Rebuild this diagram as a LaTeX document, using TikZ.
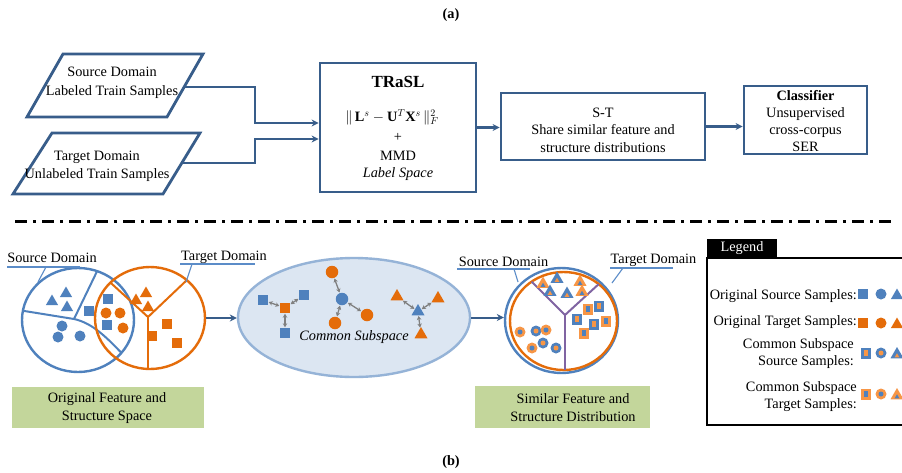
\documentclass[tikz,border=0pt]{standalone}
\usepackage{fontspec}
\setmainfont{Liberation Serif}
\usetikzlibrary{shapes.geometric,arrows.meta,calc}
\definecolor{boxblue}{HTML}{385D8A}
\definecolor{sblue}{HTML}{4F81BD}
\definecolor{torange}{HTML}{E46C0A}
\definecolor{lorange}{HTML}{F79646}
\definecolor{ellfill}{HTML}{DCE6F2}
\definecolor{elldraw}{HTML}{95B3D7}
\definecolor{gbox}{HTML}{C3D69B}
\definecolor{purp}{HTML}{8064A2}
\definecolor{arrgray}{HTML}{808080}
\definecolor{lineblue}{HTML}{5B8CC8}
\newcommand\dsym[6]{%
  \node[#1,fill=#2] (#6) at (#4) {};
  \node[#1 in,fill=#3] (#6i) at (#5) {};}
\begin{document}
\begin{tikzpicture}[x=1pt,y=-1pt,
  txt/.style={font=\fontsize{14.3}{18}\selectfont, align=center, inner sep=0pt},
  flowbox/.style={draw=boxblue, line width=2.8pt, fill=white, inner sep=0pt},
  flowarrow/.style={draw=boxblue, line width=2.2pt, -{Stealth[length=7pt,width=7pt]}},
  sq/.style={rectangle, minimum size=9.5pt, inner sep=0pt},
  ci/.style={circle, minimum size=11pt, inner sep=0pt},
  tri/.style={regular polygon, regular polygon sides=3, minimum size=14pt, inner sep=0pt},
  dsq/.style={rectangle, minimum width=10pt, minimum height=11pt, inner sep=0pt},
  dsq in/.style={rectangle, minimum width=4pt, minimum height=6.5pt, inner sep=0pt},
  dci/.style={circle, minimum size=11pt, inner sep=0pt},
  dci in/.style={circle, minimum size=5pt, inner sep=0pt},
  dtri/.style={regular polygon, regular polygon sides=3, minimum size=15pt, inner sep=0pt},
  dtri in/.style={regular polygon, regular polygon sides=3, minimum size=5.5pt, inner sep=0pt},
  garrow/.style={draw=arrgray, line width=1.3pt, {Stealth[length=4pt,width=4.5pt]}-{Stealth[length=4pt,width=4.5pt]}, shorten <=0.5pt, shorten >=0.5pt},
  leader/.style={draw=lineblue, line width=1.1pt},
  ring/.style={ellipse, line width=2.4pt, inner sep=0pt},
]
\useasboundingbox (0,0) rectangle (902,472);
\fill[white] (0,0) rectangle (902,472);

% ---------------- (a) ----------------
\node[txt, font=\bfseries\fontsize{14.3}{18}\selectfont] (ta) at (451,15) {(a)};

\draw[flowbox] (63,54) -- (203,54) -- (167,117) -- (27,117) -- cycle;
\node[txt, font=\fontsize{14.3}{19}\selectfont] (p1) at (112,83) {Source Domain\\Labeled Train Samples};
\coordinate (p1r) at (184,87);
\draw[flowbox] (52,133) -- (200,133) -- (163,194) -- (13,194) -- cycle;
\node[txt] (p2) at (97,166) {Target Domain\\Unlabeled Train Samples};
\coordinate (p2r) at (182,163);

\node[flowbox, minimum width=156pt, minimum height=129pt] (trasl) at (398,127.5) {};
\node[txt, font=\bfseries\fontsize{17}{20}\selectfont] (tt) at (398,82) {TRaSL};
\node[txt] (tf) at (392,117) {$\|\,\mathbf{L}^s-\mathbf{U}^T\mathbf{X}^s\,\|_F^{2}$};
\node[txt] (tp) at (398,137) {+};
\node[txt] (tm) at (398,156) {MMD};
\node[txt, font=\itshape\fontsize{14.3}{18}\selectfont] (tl) at (398,174) {Label Space};

\draw[flowarrow] (p1r) -- (255,87) |- ([yshift=4.5pt]trasl.west);
\draw[flowarrow] (p2r) -- (255,163) |- ([yshift=-11.5pt]trasl.west);

\node[flowbox, minimum width=204pt, minimum height=67pt] (st) at (603,126.5) {};
\node[txt, font=\fontsize{14.3}{17.5}\selectfont] (stt) at (603,130) {S-T\\Share similar feature and\\structure distributions};
\draw[flowarrow] (trasl.east) -- (trasl.east -| st.west);

\node[flowbox, minimum width=123pt, minimum height=68pt] (cls) at (805.5,120) {};
\node[txt, font=\fontsize{14.3}{17}\selectfont] (clst) at (805.5,121) {\textbf{Classifier}\\Unsupervised\\cross-corpus\\SER};
\draw[flowarrow] (st.east) -- (st.east -| cls.west);

% separator
\coordinate (dl) at (15,221);
\coordinate (dr) at (893,221);
\draw[line width=3pt, dash pattern=on 12pt off 6pt on 3pt off 6pt] (dl) -- (dr);

% ---------------- (b) left ----------------
\node[ring, draw=sblue, minimum width=112pt, minimum height=104pt] (bc) at (78,320) {};
\begin{scope}
  \clip (78,320) ellipse [x radius=56, y radius=52];
  \draw[sblue, line width=2pt] (12,309) -- (74,319) .. controls (92,323) and (106,336) .. (128,360);
  \draw[sblue, line width=2pt] (74,319) -- (102,261);
\end{scope}
\node[ring, draw=torange, minimum width=110pt, minimum height=102pt] (oc) at (150,318) {};
\begin{scope}
  \clip (150,318) ellipse [x radius=55, y radius=51];
  \draw[torange, line width=2pt] (148,317) -- (88,262);
  \draw[torange, line width=2pt] (148,317) -- (208,260);
  \draw[torange, line width=2pt] (148,317) -- (148,380);
\end{scope}

\node[tri, fill=sblue] (lbt1) at (66,293.5) {};
\node[tri, fill=sblue] (lbt2) at (52,301.5) {};
\node[tri, fill=sblue] (lbt3) at (67,307.5) {};
\node[ci, fill=sblue] (lbc1) at (62,326) {};
\node[ci, fill=sblue] (lbc2) at (58,337) {};
\node[ci, fill=sblue] (lbc3) at (80,336) {};
\node[sq, fill=sblue] (lbs1) at (89,311) {};
\node[sq, fill=sblue] (lbs2) at (108,299) {};
\node[sq, fill=sblue] (lbs3) at (107,325) {};
\node[tri, fill=torange] (lot1) at (146,293.5) {};
\node[tri, fill=torange] (lot2) at (136,300.5) {};
\node[tri, fill=torange] (lot3) at (148,307.5) {};
\node[ci, fill=torange] (loc1) at (106,313) {};
\node[ci, fill=torange] (loc2) at (120,313) {};
\node[ci, fill=torange] (loc3) at (123,328) {};
\node[sq, fill=torange] (los1) at (167,324) {};
\node[sq, fill=torange] (los2) at (152,336) {};
\node[sq, fill=torange] (los3) at (177,343) {};

\node[txt] (lsd) at (52,258) {Source Domain};
\draw[leader] (7,267) -- (80,267);
\draw[leader] (46,267) -- (38,282);
\node[txt] (ltd) at (224,257) {Target Domain};
\draw[leader] (180,264) -- (255,264);
\draw[leader] (192,264) -- (186,282);

\node[fill=gbox, minimum width=192pt, minimum height=41pt, inner sep=0pt] (g1) at (108,407.5) {};
\node[txt] (g1t) at (107,408) {Original Feature and\\Structure Space};

% ---------------- (b) middle ----------------
\node[ellipse, draw=elldraw, fill=ellfill, line width=2.4pt, minimum width=232pt, minimum height=119pt, inner sep=0pt] (ell) at (354,317.5) {};
\draw[flowarrow, line width=2pt] (oc.east) -- (oc.east -| ell.west);

\node[sq, fill=torange, minimum size=10pt] (e1c) at (285,308) {};
\node[sq, fill=sblue, minimum size=10pt] (e1a) at (263,300) {};
\node[sq, fill=sblue, minimum size=10pt] (e1b) at (304,295) {};
\node[sq, fill=sblue, minimum size=10pt] (e1d) at (285,333) {};
\draw[garrow] (e1c) -- (e1a);
\draw[garrow] (e1c) -- (e1b);
\draw[garrow] (e1c) -- (e1d);

\node[ci, fill=sblue, minimum size=12.5pt] (e2c) at (342,299) {};
\node[ci, fill=torange, minimum size=12.5pt] (e2a) at (332,272) {};
\node[ci, fill=torange, minimum size=12.5pt] (e2b) at (367,315) {};
\node[ci, fill=torange, minimum size=12.5pt] (e2d) at (335,323) {};
\draw[garrow] (e2c) -- (e2a);
\draw[garrow] (e2c) -- (e2b);
\draw[garrow] (e2c) -- (e2d);

\node[tri, fill=sblue, minimum size=15pt] (e3c) at (418,311.5) {};
\node[tri, fill=torange, minimum size=15pt] (e3a) at (397,296.5) {};
\node[tri, fill=torange, minimum size=15pt] (e3b) at (438,298.5) {};
\node[tri, fill=torange, minimum size=15pt] (e3d) at (421,334.5) {};
\draw[garrow] (e3c) -- (e3a);
\draw[garrow] (e3c) -- (e3b);
\draw[garrow] (e3c) -- (e3d);

\node[txt, font=\itshape\fontsize{14.3}{18}\selectfont] (cst) at (354,337) {Common Subspace};

% ---------------- (b) right ----------------
\node[ring, draw=sblue, minimum width=113pt, minimum height=105pt] (rb) at (561.5,320.5) {};
\node[ring, draw=torange, minimum width=107pt, minimum height=98pt] (ro) at (563.5,321) {};
\draw[flowarrow, line width=2pt] (ell.east) -- (ell.east -| rb.west);
\begin{scope}
  \clip (563.5,321) ellipse [x radius=53.5, y radius=49];
  \draw[purp, line width=2pt] (565,315) -- (505,255);
  \draw[purp, line width=2pt] (565,315) -- (625,260);
  \draw[purp, line width=2pt] (565,315) -- (565,380);
\end{scope}

\dsym{dtri}{lorange}{sblue}{543,284}{543,285.5}{rt1}
\dsym{dtri}{sblue}{lorange}{557,279}{557,280.5}{rt2}
\dsym{dtri}{lorange}{sblue}{580,282}{580,283.5}{rt3}
\dsym{dtri}{sblue}{lorange}{550,292}{550,293.5}{rt4}
\dsym{dtri}{sblue}{lorange}{567,294}{567,295.5}{rt5}
\dsym{dtri}{lorange}{sblue}{582,292}{582,293.5}{rt6}

\dsym{dci}{lorange}{sblue}{520,332}{520,332}{rc1}
\dsym{dci}{sblue}{lorange}{536,331}{536,331}{rc2}
\dsym{dci}{lorange}{sblue}{546,330}{546,330}{rc3}
\dsym{dci}{sblue}{lorange}{543,343}{543,343}{rc4}
\dsym{dci}{lorange}{sblue}{532,348}{532,348}{rc5}
\dsym{dci}{sblue}{lorange}{556,348}{556,348}{rc6}

\dsym{dsq}{lorange}{sblue}{588,309}{588,309}{rs1}
\dsym{dsq}{sblue}{lorange}{599,306}{599,306}{rs2}
\dsym{dsq}{sblue}{lorange}{577,319}{577,319}{rs3}
\dsym{dsq}{sblue}{lorange}{594,324}{594,324}{rs4}
\dsym{dsq}{lorange}{sblue}{606,321}{606,321}{rs5}
\dsym{dsq}{lorange}{sblue}{584,333}{584,333}{rs6}

\node[txt] (rsd) at (503.5,262) {Source Domain};
\draw[leader] (457,269) -- (530,269);
\draw[leader] (514,269) -- (518,282);
\node[txt] (rtd) at (653.5,260) {Target Domain};
\draw[leader] (610,268) -- (673,268);
\draw[leader] (623,268) -- (612,283);

\node[fill=gbox, minimum width=175pt, minimum height=42pt, inner sep=0pt] (g2) at (562.5,407) {};
\node[txt] (g2t) at (573,408) {Similar Feature and\\Structure Distribution};

% ---------------- legend ----------------
\node[draw=black, line width=2.5pt, minimum width=210pt, minimum height=167pt, inner sep=0pt] (leg) at (812,341.5) {};
\node[txt, fill=black, text=white, minimum width=70pt, minimum height=19pt] (legtab) at (742,248.5) {Legend};

\node[txt, anchor=east] (l1) at (857,296) {Original Source Samples:};
\node[txt, anchor=east] (l2) at (857,322) {Original Target Samples:};
\node[txt, anchor=east, align=right, font=\fontsize{14.3}{17}\selectfont] (l3) at (854,353.5) {Common Subspace\\Source Samples:};
\node[txt, anchor=east, align=right, font=\fontsize{14.3}{17}\selectfont] (l4) at (857,396.5) {Common Subspace\\Target Samples:};

\node[sq, fill=sblue] (ls1) at (863,294) {};
\node[ci, fill=sblue] (ls2) at (881,294) {};
\node[tri, fill=sblue] (ls3) at (897,295.5) {};
\node[sq, fill=torange] (lt1) at (863,323) {};
\node[ci, fill=torange] (lt2) at (881,323) {};
\node[tri, fill=torange] (lt3) at (897,324.5) {};
\dsym{dsq}{sblue}{lorange}{866,353}{866,353}{lc1}
\dsym{dci}{sblue}{lorange}{881,353}{881,353}{lc2}
\dsym{dtri}{sblue}{lorange}{897,354.5}{897,356}{lc3}
\dsym{dsq}{lorange}{sblue}{866,394}{866,394}{lu1}
\dsym{dci}{lorange}{sblue}{881,394}{881,394}{lu2}
\dsym{dtri}{lorange}{sblue}{897,395.5}{897,397}{lu3}

\node[txt, font=\bfseries\fontsize{14.3}{18}\selectfont] (tb) at (451,462) {(b)};
\end{tikzpicture}
\end{document}
